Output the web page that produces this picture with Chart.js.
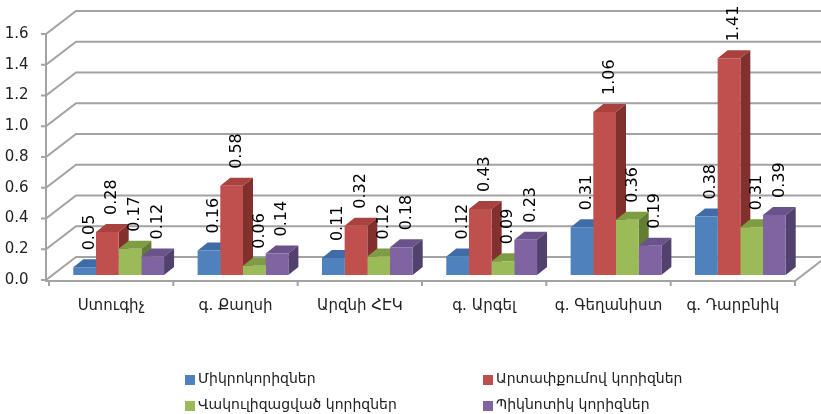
<!DOCTYPE html>
<html>
<head>
<meta charset="utf-8">
<script src="https://cdn.jsdelivr.net/npm/chart.js@4.4.1/dist/chart.umd.min.js"></script>
<style>
  body { margin: 0; background: #fff; }
</style>
</head>
<body>
<canvas id="bar" width="821" height="414"></canvas>
<script>
const categories = ['Ստուգիչ', 'գ. Քաղսի', 'Արզնի ՀԷԿ', 'գ. Արգել', 'գ. Գեղանիստ', 'գ. Դարբնիկ'];
const seriesNames = ['Միկրոկորիզներ', 'Արտափքումով կորիզներ', 'Վակուլիզացված կորիզներ', 'Պիկնոտիկ կորիզներ'];
const micro = [0.05, 0.16, 0.11, 0.12, 0.31, 0.38];
const protrusion = [0.28, 0.58, 0.32, 0.43, 1.06, 1.41];
const vacuolized = [0.17, 0.06, 0.12, 0.09, 0.36, 0.31];
const pyknotic = [0.12, 0.14, 0.18, 0.23, 0.19, 0.39];
const yTicks = [0, 0.2, 0.4, 0.6, 0.8, 1.0, 1.2, 1.4, 1.6];

// front / top / side colours of the 3d boxes
const faces = [
  { front: '#4f81bd', top: '#3f6ca6', side: '#335985' },
  { front: '#c0504d', top: '#a9413e', side: '#82302e' },
  { front: '#9bbb59', top: '#7e9c43', side: '#647d34' },
  { front: '#8064a2', top: '#6a528b', side: '#52406d' }
];

const DX = 10, DY = -8;          // depth of a bar
const WALL_X = 30, WALL_Y = -23; // depth of the floor
const FRONT_X = -7.5, FRONT_Y = 6; // front edge relative to bar fronts

const box3d = {
  id: 'box3d',
  beforeDatasetsDraw(chart) {
    const { ctx, chartArea, scales } = chart;
    const y = scales.y;
    const w = (chartArea.right - chartArea.left) / categories.length;
    const axisX = chartArea.left + FRONT_X - 3;
    const rightEnd = chartArea.right + FRONT_X;
    ctx.save();
    ctx.strokeStyle = '#a3a3a3';
    ctx.lineWidth = 2;
    yTicks.forEach(v => {
      const fy = y.getPixelForValue(v) + FRONT_Y - 1;
      ctx.beginPath();
      ctx.moveTo(axisX - 5, fy);
      ctx.lineTo(axisX, fy);
      ctx.lineTo(axisX + WALL_X, fy + WALL_Y);
      ctx.lineTo(chart.width, fy + WALL_Y);
      ctx.stroke();
    });
    const f0 = y.getPixelForValue(0) + FRONT_Y;
    const f1 = y.getPixelForValue(1.6) + FRONT_Y - 1;
    ctx.beginPath();
    ctx.moveTo(axisX, f1);
    ctx.lineTo(axisX, f0);
    ctx.lineTo(rightEnd, f0);
    ctx.lineTo(rightEnd + WALL_X, f0 + WALL_Y);
    ctx.stroke();
    for (let k = 0; k <= categories.length; k++) {
      const xt = chartArea.left + FRONT_X + k * w;
      ctx.beginPath();
      ctx.moveTo(xt, f0);
      ctx.lineTo(xt, f0 + 5);
      ctx.stroke();
    }
    // top and side faces, fronts are drawn by chart.js afterwards
    chart.data.datasets.forEach((ds, i) => {
      const meta = chart.getDatasetMeta(i);
      meta.data.forEach(bar => {
        const p = bar.getProps(['x', 'y', 'base', 'width'], true);
        const l = p.x - p.width / 2, r = p.x + p.width / 2;
        ctx.fillStyle = faces[i].top;
        ctx.beginPath();
        ctx.moveTo(l, p.y);
        ctx.lineTo(r, p.y);
        ctx.lineTo(r + DX, p.y + DY);
        ctx.lineTo(l + DX, p.y + DY);
        ctx.closePath();
        ctx.fill();
        ctx.fillStyle = faces[i].side;
        ctx.beginPath();
        ctx.moveTo(r, p.y);
        ctx.lineTo(r + DX, p.y + DY);
        ctx.lineTo(r + DX, p.base + DY);
        ctx.lineTo(r, p.base);
        ctx.closePath();
        ctx.fill();
      });
    });
    ctx.restore();
  },
  afterDatasetsDraw(chart) {
    const { ctx } = chart;
    ctx.save();
    ctx.fillStyle = '#000';
    ctx.font = '16px "DejaVu Sans", sans-serif';
    ctx.textAlign = 'left';
    ctx.textBaseline = 'middle';
    chart.data.datasets.forEach((ds, i) => {
      chart.getDatasetMeta(i).data.forEach((bar, j) => {
        const p = bar.getProps(['x', 'y'], true);
        ctx.save();
        ctx.translate(p.x + 5, p.y - 17);
        ctx.rotate(-Math.PI / 2);
        ctx.fillText(String(ds.data[j]), 0, 0);
        ctx.restore();
      });
    });
    ctx.restore();
  },
  afterDraw(chart) {
    const { ctx } = chart;
    const spots = [[185, 375], [483, 375], [185, 401], [483, 401]];
    ctx.save();
    ctx.font = '14px "DejaVu Sans", sans-serif';
    ctx.textAlign = 'left';
    ctx.textBaseline = 'middle';
    seriesNames.forEach((name, i) => {
      const [lx, ly] = spots[i];
      ctx.fillStyle = faces[i].front;
      ctx.fillRect(lx, ly, 10, 10);
      ctx.fillStyle = '#222';
      ctx.fillText(name, lx + 13, ly + 4);
    });
    ctx.restore();
  }
};

Chart.defaults.font.family = '"DejaVu Sans", sans-serif';
Chart.defaults.color = '#222';

const seriesValues = [micro, protrusion, vacuolized, pyknotic];

new Chart(document.getElementById('bar'), {
  type: 'bar',
  data: {
    labels: categories,
    datasets: seriesNames.map((name, i) => ({
      label: name,
      data: seriesValues[i],
      backgroundColor: faces[i].front,
      borderWidth: 0,
      categoryPercentage: 0.73,
      barPercentage: 1
    }))
  },
  options: {
    responsive: false,
    devicePixelRatio: 1,
    animation: false,
    layout: { padding: { top: 28, right: 18.5, left: 0, bottom: 0 } },
    plugins: { legend: { display: false }, tooltip: { enabled: false } },
    scales: {
      x: {
        grid: { display: false },
        border: { display: false },
        ticks: { font: { size: 15 }, labelOffset: -7.5, padding: 14, maxRotation: 0, autoSkip: false },
        afterFit: s => { s.height = 139; }
      },
      y: {
        min: 0,
        max: 1.6,
        grid: { display: false },
        border: { display: false },
        ticks: {
          stepSize: 0.2,
          font: { size: 15 },
          padding: 20,
          labelOffset: 5,
          callback: v => Number(v).toFixed(1)
        },
        afterFit: s => { s.width = 56.5; }
      }
    }
  },
  plugins: [box3d]
});
</script>
</body>
</html>
